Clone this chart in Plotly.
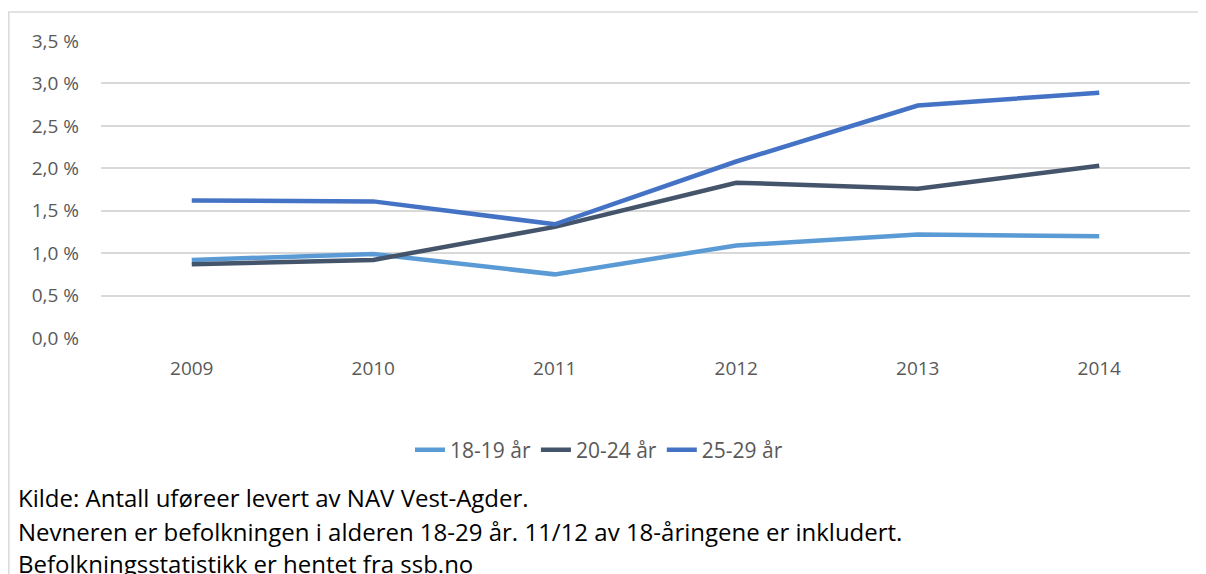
import plotly.graph_objects as go

years = ["2009", "2010", "2011", "2012", "2013", "2014"]
series_names = ["18-19 år", "20-24 år", "25-29 år"]
v_18_19 = [0.92, 0.99, 0.75, 1.09, 1.22, 1.20]
v_20_24 = [0.87, 0.92, 1.31, 1.83, 1.76, 2.03]
v_25_29 = [1.62, 1.61, 1.34, 2.08, 2.74, 2.89]
y_tickvals = [0.0, 0.5, 1.0, 1.5, 2.0, 2.5, 3.0, 3.5]
y_ticktext = ["0,0 %", "0,5 %", "1,0 %", "1,5 %", "2,0 %", "2,5 %", "3,0 %", "3,5 %"]
note_lines = [
    "Kilde: Antall uføreer levert av NAV Vest-Agder.",
    "Nevneren er befolkningen i alderen 18-29 år. 11/12 av 18-åringene er inkludert.",
    "Befolkningsstatistikk er hentet fra ssb.no",
]
colors = ["#5B9BD5", "#44546A", "#4472C4"]

FONT = "Open Sans"
OFF = 8  # page body margin
W, H = 1198, 566
ML, MR, MT, MB = 93, 16, 33, 236
PW = W - ML - MR
PH = H - MT - MB

def px(x):
    return (x - OFF - ML) / PW

def py(y):
    return (H - MB - (y - OFF)) / PH

fig = go.Figure()
for name, vals, col in zip(series_names, [v_18_19, v_20_24, v_25_29], colors):
    fig.add_trace(go.Scatter(
        x=years, y=vals, name=name, mode="lines",
        line=dict(color=col, width=4.5),
    ))

fig.update_layout(
    width=W, height=H,
    margin=dict(l=ML, r=MR, t=MT, b=MB),
    paper_bgcolor="white", plot_bgcolor="white",
    font=dict(family=FONT, color="#595959", size=19),
    showlegend=True,
    legend=dict(
        orientation="h", x=px(599), xanchor="center", y=py(450), yanchor="middle",
        font=dict(family=FONT, size=21, color="#595959"),
        traceorder="normal",
    ),
    xaxis=dict(
        type="category", range=[-0.5, 5.5], showgrid=False, zeroline=False, showline=False,
        ticks="", ticklabelstandoff=17,
        tickfont=dict(family=FONT, size=19, color="#595959"),
    ),
    yaxis=dict(
        range=[0, 3.5], tickvals=y_tickvals, ticktext=y_ticktext,
        showgrid=True, gridcolor="#D9D9D9", gridwidth=1.5,
        zeroline=False, showline=False, ticks="", ticklabelstandoff=21,
        tickfont=dict(family=FONT, size=19, color="#595959"),
    ),
    shapes=[dict(
        type="rect", xref="paper", yref="paper",
        x0=px(8.8), x1=px(1230), y0=py(600), y1=py(12),
        line=dict(color="#D9D9D9", width=1.5), fillcolor="rgba(0,0,0,0)", layer="below",
    )],
)

for line, ypix in zip(note_lines, [497, 531, 563]):
    fig.add_annotation(
        text=line, xref="paper", yref="paper", x=px(16), y=py(ypix),
        xanchor="left", yanchor="middle", showarrow=False,
        font=dict(family=FONT, size=24, color="#000000"),
    )

fig.write_html("out.html")
